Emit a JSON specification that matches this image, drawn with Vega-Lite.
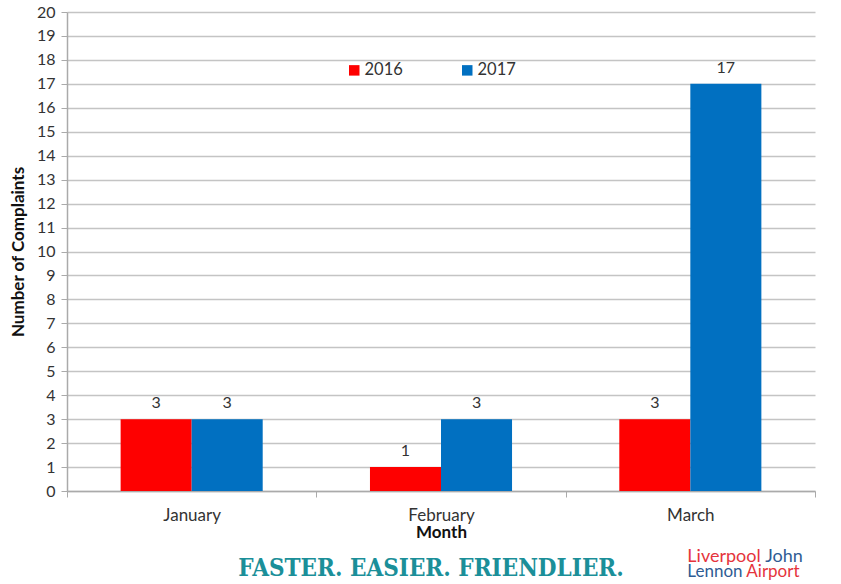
{
"$schema":"https://vega.github.io/schema/vega-lite/v6.json",
"width":748,"height":479,
"padding":{"left":67,"top":12,"right":26,"bottom":93},
"autosize":"none",
"view":{"stroke":null},
"background":"white",
"config":{"font":"Lato"},
"data":{"values":[
{"month":"January","year":"2016","value":3},
{"month":"January","year":"2017","value":3},
{"month":"February","year":"2016","value":1},
{"month":"February","year":"2017","value":3},
{"month":"March","year":"2016","value":3},
{"month":"March","year":"2017","value":17}
]},
"encoding":{
"x":{"field":"month","type":"nominal","sort":["January","February","March"],"scale":{"paddingInner":0,"paddingOuter":0},
"axis":{"title":"Month","titleFontSize":17,"titleFontWeight":"bold","titleColor":"#111","titlePadding":1,"labelAngle":0,"labelFontSize":17,"labelColor":"#333","domainColor":"#aaa","domainWidth":1.5,"tickColor":"#aaa","tickBand":"extent","tickSize":6,"labelPadding":10}},
"y":{"field":"value","type":"quantitative","scale":{"domain":[0,20]},
"axis":{"title":"Number of Complaints","titleFontSize":17,"titleFontWeight":"bold","titleColor":"#111","titlePadding":9,"values":[0,1,2,3,4,5,6,7,8,9,10,11,12,13,14,15,16,17,18,19,20],"labelOverlap":false,"labelFontSize":16,"labelColor":"#333","domainColor":"#aaa","domainWidth":1.5,"tickColor":"#aaa","gridColor":"#c4c4c4","gridWidth":1.5,"grid":true,"tickSize":6,"labelPadding":6}}
},
"layer":[
{"mark":{"type":"bar"},
"encoding":{
"xOffset":{"field":"year","type":"nominal","scale":{"paddingInner":0,"paddingOuter":0.755}},
"color":{"field":"year","type":"nominal","scale":{"domain":["2016","2017"],"range":["#fe0000","#0170c1"]},
"legend":{"title":null,"orient":"none","legendX":279,"legendY":50,"direction":"horizontal","symbolType":"square","symbolSize":110,"labelFontSize":16.5,"labelOffset":2,"labelColor":"#333","columnPadding":56,"symbolOpacity":1}}
}},
{"mark":{"type":"text","dy":-16,"fontSize":16,"color":"#333"},
"encoding":{
"xOffset":{"field":"year","type":"nominal"},
"text":{"field":"value","type":"quantitative"}
}},
{"data":{"values":[{"month":"February","value":-3.27,"label":"FASTER. EASIER. FRIENDLIER."}]},
"mark":{"type":"text","font":"DejaVu Serif Condensed","fontWeight":"bold","fontSize":24,"color":"#1b8f99","dx":-10},
"encoding":{"text":{"field":"label"}}},
{"data":{"values":[{"month":"March","value":-2.76,"label":"Liverpool"}]},
"mark":{"type":"text","align":"left","fontSize":18,"color":"#e5343c","dx":-3},
"encoding":{"text":{"field":"label"}}},
{"data":{"values":[{"month":"March","value":-2.76,"label":"John"}]},
"mark":{"type":"text","align":"left","fontSize":18,"color":"#2f5c94","dx":75},
"encoding":{"text":{"field":"label"}}},
{"data":{"values":[{"month":"March","value":-3.38,"label":"Lennon"}]},
"mark":{"type":"text","align":"left","fontSize":17,"color":"#2f5c94","dx":-3},
"encoding":{"text":{"field":"label"}}},
{"data":{"values":[{"month":"March","value":-3.38,"label":"Airport"}]},
"mark":{"type":"text","align":"left","fontSize":17,"color":"#e5343c","dx":56},
"encoding":{"text":{"field":"label"}}}
]
}
